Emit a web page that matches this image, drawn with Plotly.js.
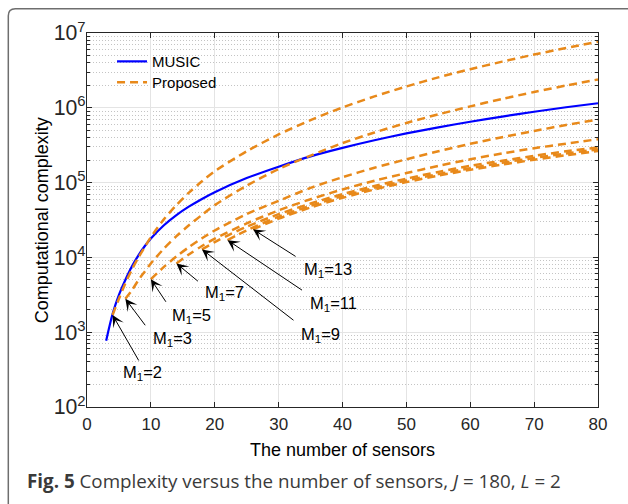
<!DOCTYPE html>
<html>
<head>
<meta charset="utf-8">
<script src="https://cdn.plot.ly/plotly-3.0.1.min.js"></script>
<style>
  html, body { margin: 0; padding: 0; background: #ffffff; }
  #chart { width: 628px; height: 504px; }
</style>
</head>
<body>
<div id="chart"></div>
<script>
// ---------------- data ----------------
const musicX = [3,4,5,6,7,8,9,10,12,14,16,18,20,25,30,35,40,45,50,55,60,65,70,75,80];
const musicY = [770,1750,3150,5000,7500,10500,14000,17900,26700,36800,48000,60500,74500,115000,163000,224000,291000,368000,454000,548000,651000,764000,886000,1016000,1150000];

const m1List = [2,3,5,7,9,11,13];

const prop2X = [4,5,6,7,8,9,10,12,14,16,18,20,25,30,35,40,45,50,55,60,65,70,75,80];
const prop2Y = [1700,2800,4500,6800,9800,13600,18700,32000,50000,74000,104000,142000,262000,440000,685000,1010000,1420000,1930000,2550000,3280000,4140000,5150000,6300000,7670000];

const prop3X = [6,7,8,9,10,12,14,16,18,20,25,30,35,40,45,50,55,60,65,70,75,80];
const prop3Y = [2800,3600,4900,6400,8300,13000,19200,27100,37000,50000,91000,152000,230000,337000,467000,627000,817000,1045000,1315000,1625000,1985000,2390000];

const prop5X = [10,12,14,16,18,20,25,30,35,40,45,50,55,60,65,70,75,80];
const prop5Y = [5100,7400,10300,13800,18000,22900,38000,57000,85000,118000,158000,205000,262000,330000,405000,490000,590000,695000];

const prop7X = [14,16,18,20,25,30,35,40,45,50,55,60,65,70,75,80];
const prop7Y = [8300,11000,14200,17800,28500,42500,60000,81000,106000,134000,167000,205000,245000,288000,332000,380000];

const prop9X = [18,20,22,25,30,35,40,45,50,55,60,65,70,75,80];
const prop9Y = [12800,16000,19600,25700,37800,52500,70000,90000,113000,139000,168000,196000,228000,262000,295000];

const prop11X = [22,25,30,35,40,45,50,55,60,65,70,75,80];
const prop11Y = [17000,23000,35000,49000,66000,85000,106500,130000,156000,184000,214000,245000,278000];

const prop13X = [26,30,35,40,45,50,55,60,65,70,75,80];
const prop13Y = [23700,33000,46500,62500,81000,101500,124000,148000,174000,202000,232000,265000];

const propXs = [prop2X, prop3X, prop5X, prop7X, prop9X, prop11X, prop13X];
const propYs = [prop2Y, prop3Y, prop5Y, prop7Y, prop9Y, prop11Y, prop13Y];

const xTickVals = [0,10,20,30,40,50,60,70,80];

// ---------------- styling / label placement (pixel offsets from curve start) ----------------
const arrowTail = [[27,47],[21,28],[16,24],[23,19],[93,72],[76,51],[44,28]];
const labelOff  = [[29,58],[46,40],[40,37],[47,30],[118,86],[105,64],[74,41]];

const FONT = 'Liberation Sans, Arial, Helvetica, sans-serif';
const AXC = '#262626';
const BLUE = '#0000ff';
const ORANGE = '#e8891a';

const traces = [{
  x: musicX, y: musicY, type: 'scatter', mode: 'lines', name: 'MUSIC',
  legend: 'legend',
  line: {color: BLUE, width: 2.2, shape: 'spline', smoothing: 0.8}
}];
propXs.forEach((px, i) => {
  traces.push({
    x: px, y: propYs[i], type: 'scatter', mode: 'lines',
    name: 'Proposed', showlegend: i === 0, legend: 'legend2',
    line: {color: ORANGE, width: 2.5, dash: '8px,5px', shape: 'spline', smoothing: 0.8}
  });
});

const annotations = [];
m1List.forEach((m1, i) => {
  const hx = propXs[i][0], hy = Math.log10(propYs[i][0]);
  annotations.push({
    x: hx, y: hy, xref: 'x', yref: 'y', text: '',
    showarrow: true, arrowhead: 3, arrowsize: 2, arrowwidth: 1, arrowcolor: '#000',
    ax: arrowTail[i][0], ay: arrowTail[i][1]
  });
  annotations.push({
    x: hx, y: hy, xref: 'x', yref: 'y', showarrow: false,
    text: 'M<sub>1</sub>=' + m1,
    xshift: labelOff[i][0] + 1, yshift: -labelOff[i][1],
    xanchor: 'center', yanchor: 'middle',
    font: {family: FONT, size: 16.5, color: '#000'}
  });
});
// y-axis title as rotated text, placed like the reference
annotations.push({
  xref: 'paper', yref: 'paper', x: -0.0875, y: 0.5, xanchor: 'center', yanchor: 'middle',
  showarrow: false, textangle: -90,
  text: 'Computational complexity',
  font: {family: FONT, size: 18, color: '#000'}
});
annotations.push({
  xref: 'paper', yref: 'paper', x: -0.121, y: -0.197, xanchor: 'left', yanchor: 'middle',
  showarrow: false, align: 'left',
  text: '<b>Fig. 5</b> Complexity versus the number of sensors, <i>J</i> = 180, <i>L</i> = 2',
  font: {family: 'Open Sans, Noto Sans, sans-serif', size: 18.8, color: '#3a3a3a'}
});

const layout = {
  width: 628, height: 504,
  margin: {l: 87, r: 30, t: 33, b: 97},
  paper_bgcolor: '#ffffff', plot_bgcolor: '#ffffff',
  font: {family: FONT, color: AXC},
  showlegend: true,
  legend: {
    x: 0.049, y: 0.9676, xanchor: 'left', yanchor: 'top',
    bgcolor: 'rgba(255,255,255,0)', borderwidth: 0,
    font: {family: FONT, size: 15, color: '#000'}
  },
  legend2: {
    x: 0.049, y: 0.9115, xanchor: 'left', yanchor: 'top',
    bgcolor: 'rgba(255,255,255,0)', borderwidth: 0,
    font: {family: FONT, size: 15, color: '#000'}
  },
  xaxis: {
    range: [0, 80], tickvals: xTickVals, ticks: 'inside', ticklen: 5, tickcolor: AXC,
    showline: true, linecolor: AXC, linewidth: 1, mirror: 'allticks',
    showgrid: true, gridcolor: '#e4e4e4', gridwidth: 1, zeroline: false,
    ticklabelstandoff: 2,
    tickfont: {family: FONT, size: 17, color: AXC},
    title: {text: 'The number of sensors', font: {family: FONT, size: 18, color: '#000'}, standoff: 9}
  },
  yaxis: {
    type: 'log', range: [2, 7], dtick: 1, exponentformat: 'power', showexponent: 'all',
    ticks: 'inside', ticklen: 5, tickcolor: AXC,
    showline: true, linecolor: AXC, linewidth: 1, mirror: 'allticks',
    showgrid: true, gridcolor: '#e4e4e4', gridwidth: 1, zeroline: false,
    ticklabelstandoff: -3,
    minor: {dtick: 'D1', ticks: 'inside', ticklen: 3, tickcolor: AXC, showgrid: true, gridcolor: '#c4c4c4', griddash: '1px,2px', gridwidth: 1},
    tickfont: {family: FONT, size: 17, color: AXC}
  },
  annotations: annotations,
  shapes: [{
    type: 'rect', xref: 'paper', yref: 'paper', layer: 'between',
    x0: 0.04, x1: 0.225, y0: 0.84, y1: 0.955,
    fillcolor: '#ffffff', line: {width: 0}
  }, {
    type: 'path', xref: 'paper', yref: 'paper', layer: 'above',
    path: 'M -0.154,-0.32 L -0.154,1.0464 Q -0.154,1.0651 -0.1403,1.0651 L 1.12,1.0651',
    line: {color: '#6e6e6e', width: 1.5}
  }]
};

Plotly.newPlot('chart', traces, layout, {staticPlot: true, displayModeBar: false});
</script>
</body>
</html>
